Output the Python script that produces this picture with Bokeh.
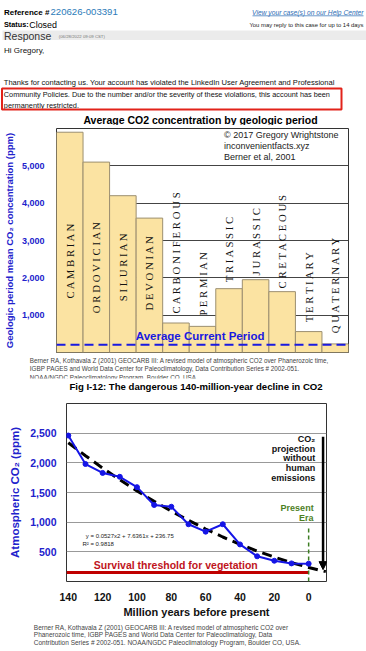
import math
from bokeh.plotting import figure
from bokeh.models import Range1d, FixedTicker, NumeralTickFormatter, Span, Arrow, NormalHead
from bokeh.core.properties import value
from bokeh.embed import file_html
from bokeh.resources import INLINE

# ---------------- data ----------------
periods = ["CAMBRIAN", "ORDOVICIAN", "SILURIAN", "DEVONIAN", "CARBONIFEROUS", "PERMIAN",
           "TRIASSIC", "JURASSIC", "CRETACEOUS", "TERTIARY", "QUATERNARY"]
period_co2 = [5900, 5100, 4200, 3600, 790, 700, 1710, 1950, 1630, 560, 230]
current_avg_co2 = 210
bar_ticks = [1000, 2000, 3000, 4000, 5000]

ages_myr = [140, 130, 120, 110, 100, 90, 80, 70, 60, 50, 40, 30, 20, 10, 0]
co2_ppm = [2460, 1980, 1830, 1765, 1590, 1290, 1260, 965, 840, 965, 625, 425, 350, 305, 300]
trend_ages = [140, 130, 120, 110, 100, 90, 80, 70, 60, 50, 40, 30, 20, 10, 0, -10]
trend_ppm = [2339, 2120, 1912, 1714, 1527, 1351, 1185, 1030, 885, 750, 627, 513, 411, 318, 237, 166]
threshold_ppm = 150
line_yticks = [500, 1000, 1500, 2000, 2500]
line_xticks = [140, 120, 100, 80, 60, 40, 20, 0]

# label layout (positions only)
label_bottom = [1447, 1053, 1374, 1125, 1045, 991, 1883, 2063, 1714, 812, 517]

W = 366
SANS = "Liberation Sans"
BLUE = "#2222cc"


def pix_fig(top, h):
    f = figure(width=W, height=h, x_range=Range1d(0, W), y_range=Range1d(top + h, top),
               output_backend="svg", toolbar_location=None, min_border=0,
               x_axis_type=None, y_axis_type=None, title_location=None)
    f.outline_line_color = None
    f.background_fill_color = "white"
    f.border_fill_color = "white"
    return f


def put(f, x, y, s, size, color="#000000", style="normal", align="left",
        font=SANS, baseline="middle", angle=0.0):
    f.text(x=[x], y=[y], text=[s], text_font=value(font), text_font_size=value(size),
           text_color=color, text_font_style=style, text_align=align,
           text_baseline=baseline, angle=angle)


# ---------------- header (email) ----------------
f1 = pix_fig(0, 125)
put(f1, 3.5, 11.7, "Reference #", "8px", style="bold")
put(f1, 50, 11.7, "220626-003391", "9.6px", color="#2b7bb9")
put(f1, 363, 11.7, "View your case(s) on our Help Center", "6.7px", color="#2d6db5",
    style="italic", align="right")
f1.segment(x0=[252], y0=[15.3], x1=[363], y1=[15.3], line_color="#2d6db5", line_width=0.7)
put(f1, 3.5, 24, "Status:", "7.3px", style="bold")
put(f1, 28.8, 24, "Closed", "8.9px")
put(f1, 363, 24, "You may reply to this case for up to 14 days", "5.9px", color="#222222",
    align="right")
f1.quad(left=[2], right=[366], top=[30], bottom=[39.5], fill_color="#ebebeb", line_color=None)
put(f1, 3.5, 35, "Response", "10.5px", color="#333333")
put(f1, 58.3, 35.5, "(06/28/2022 09:09 CST)", "4.3px", color="#777777")
put(f1, 3.5, 50, "Hi Gregory,", "8px", color="#111111")
put(f1, 3.3, 82, "Thanks for contacting us. Your account has violated the LinkedIn User Agreement and Professional",
    "7.55px", color="#111111")
put(f1, 3.3, 93.5, "Community Policies. Due to the number and/or the severity of these violations, this account has been",
    "7.3px", color="#111111")
put(f1, 3.3, 104.5, "permanently restricted.", "7.4px", color="#111111")
f1.quad(left=[1.5], right=[341], top=[88], bottom=[109], fill_color=None,
        line_color="#e2231a", line_width=2)
put(f1, 200, 119.5, "Average CO2 concentration by geologic period", "10.5px", style="bold",
    align="center")

# ---------------- bar chart ----------------
f2 = figure(width=W, height=231, x_range=Range1d(0, 11), y_range=Range1d(0, 6000),
            x_axis_type=None, output_backend="svg", toolbar_location=None, title_location=None,
            min_border_left=52, min_border_right=18, min_border_top=3, min_border_bottom=4)
f2.background_fill_color = "white"
f2.border_fill_color = "white"
f2.outline_line_color = "#333333"
f2.outline_line_width = 1
f2.ygrid.grid_line_color = "#444444"
f2.ygrid.ticker = FixedTicker(ticks=bar_ticks)
ya = f2.yaxis[0]
ya.ticker = FixedTicker(ticks=bar_ticks)
ya.formatter = NumeralTickFormatter(format="0,0")
ya.major_label_text_font = SANS
ya.major_label_text_font_size = "9px"
ya.major_label_text_font_style = "bold"
ya.major_label_text_color = BLUE
ya.major_label_standoff = 6
ya.axis_line_color = None
ya.major_tick_line_color = None
ya.minor_tick_line_color = None
ya.axis_label = "Geologic period mean CO\u2082 concentration (ppm)"
ya.axis_label_text_font = SANS
ya.axis_label_text_font_size = "9.5px"
ya.axis_label_text_font_style = "bold"
ya.axis_label_text_color = BLUE
ya.axis_label_standoff = 4

xs = [i + 0.5 for i in range(len(periods))]
f2.vbar(x=xs, top=period_co2, width=1.0, fill_color="#fbe3a2", line_color="#9c8f70",
        line_width=1)
f2.text(x=xs, y=label_bottom, text=[" ".join(p) for p in periods],
        text_font=value("Liberation Serif"), text_font_size=value("10.8px"),
        text_color="#111111", text_align="left", text_baseline="middle", angle=math.pi / 2)
f2.add_layout(Span(location=current_avg_co2, dimension="width", line_color="#1a1ae0",
                   line_width=2, line_dash="9 5"))
put(f2, 5.41, 455, "Average Current Period", "11.5px", color="#1a1ae0", style="bold",
    align="center")
put(f2, 6.31, 5813, "\u00a9 2017 Gregory Wrightstone", "9px", color="#222222")
put(f2, 6.31, 5518, "inconvenientfacts.xyz", "9px", color="#222222")
put(f2, 6.31, 5224, "Berner et al, 2001", "9px", color="#222222")

# ---------------- middle captions ----------------
f3 = pix_fig(356, 44)
cap1 = ["Berner RA, Kothavala Z (2001) GEOCARB III: A revised model of atmospheric CO2 over Phanerozoic time,",
        "IGBP PAGES and World Data Center for Paleoclimatology, Data Contribution Series # 2002-051.",
        "NOAA/NGDC Paleoclimatology Program, Boulder CO, USA."]
for txt, yy in zip(cap1, [360, 368.3, 376.7]):
    put(f3, 29.3, yy, txt, "6.3px", color="#444444")
f3.quad(left=[0], right=[366], top=[377.9], bottom=[392], fill_color="white", line_color=None)
put(f3, 195.5, 385.5, "Fig I-12: The dangerous 140-million-year decline in CO2", "9.6px",
    style="bold", align="center")

# ---------------- line chart ----------------
f4 = figure(width=W, height=220, x_range=Range1d(141.05, -10.4), y_range=Range1d(0, 3000),
            output_backend="svg", toolbar_location=None, title_location=None,
            min_border_left=66, min_border_right=40, min_border_top=3, min_border_bottom=33)
f4.background_fill_color = "white"
f4.border_fill_color = "white"
f4.outline_line_color = "#333333"
f4.xgrid.grid_line_color = None
f4.ygrid.grid_line_color = "#999999"
f4.ygrid.ticker = FixedTicker(ticks=line_yticks)
ly = f4.yaxis[0]
ly.ticker = FixedTicker(ticks=line_yticks)
ly.formatter = NumeralTickFormatter(format="0,0")
ly.major_label_text_font = SANS
ly.major_label_text_font_size = "10.5px"
ly.major_label_text_font_style = "bold"
ly.major_label_text_color = BLUE
ly.major_label_standoff = 4
ly.axis_label = "Atmospheric CO\u2082 (ppm)"
ly.axis_label_text_font = SANS
ly.axis_label_text_font_size = "11.5px"
ly.axis_label_text_font_style = "bold"
ly.axis_label_text_color = BLUE
ly.axis_label_standoff = 6
lx = f4.xaxis[0]
lx.ticker = FixedTicker(ticks=line_xticks)
lx.major_label_text_font = SANS
lx.major_label_text_font_size = "10.5px"
lx.major_label_text_font_style = "bold"
lx.major_label_text_color = "#111111"
lx.major_label_standoff = 5
lx.axis_label = "Million years before present"
lx.axis_label_text_font = SANS
lx.axis_label_text_font_size = "11px"
lx.axis_label_text_font_style = "bold"
lx.axis_label_text_color = "#111111"
lx.axis_label_standoff = 2
for ax in (lx, ly):
    ax.axis_line_color = None
    ax.major_tick_line_color = None
    ax.minor_tick_line_color = None

f4.segment(x0=[141.05], y0=[threshold_ppm], x1=[ages_myr[-1]], y1=[threshold_ppm],
           line_color="#c00000", line_width=3)
f4.segment(x0=[ages_myr[-1]], y0=[0], x1=[ages_myr[-1]], y1=[900],
           line_color="#3c7d22", line_width=1.5, line_dash="4 3")
f4.line(trend_ages, trend_ppm, line_color="black", line_width=3, line_dash="10 6")
f4.line(ages_myr, co2_ppm, line_color="#1515e6", line_width=2)
f4.scatter(ages_myr, co2_ppm, size=5, fill_color="#1515e6", line_color="#1515e6")
f4.add_layout(Arrow(end=NormalHead(size=8, fill_color="black", line_color="black"),
                    x_start=-8.4, y_start=2440, x_end=-8.4, y_end=200,
                    line_color="black", line_width=2.5))
put(f4, 129.8, 773, "y = 0.0527x2 + 7.6361x + 236.75", "6px", color="#222222")
put(f4, 131.8, 638, "R\u00b2 = 0.9818", "6px", color="#222222")
put(f4, 77.4, 274, "Survival threshold for vegetation", "10.5px", color="#c0141c",
    style="bold", align="center")
put(f4, -2.9, 1234, "Present", "9px", color="#4d7f1f", style="bold", align="right")
put(f4, -2.9, 1072, "Era", "9px", color="#4d7f1f", style="bold", align="right")
for txt, yy in zip(["CO\u2082", "projection", "without", "human", "emissions"],
                   [2402, 2239, 2077, 1914, 1751]):
    put(f4, -3.8, yy, txt, "9px", color="#111111", style="bold", align="right")

# ---------------- bottom caption ----------------
f5 = pix_fig(620, 31)
cap2 = ["Berner RA, Kothavala Z (2001) GEOCARB III: A revised model of atmospheric CO2 over",
        "Phanerozoic time, IGBP PAGES and World Data Center for Paleoclimatology, Data",
        "Contribution Series # 2002-051. NOAA/NGDC Paleoclimatology Program, Boulder CO, USA."]
for txt, yy in zip(cap2, [626.7, 634.2, 642.3]):
    put(f5, 33.3, yy, txt, "6.5px", color="#444444")

# separate roots stacked vertically (no frame alignment between them)
roots = [f1, f2, f3, f4, f5]
open("out.html", "w").write(file_html(roots, INLINE))
